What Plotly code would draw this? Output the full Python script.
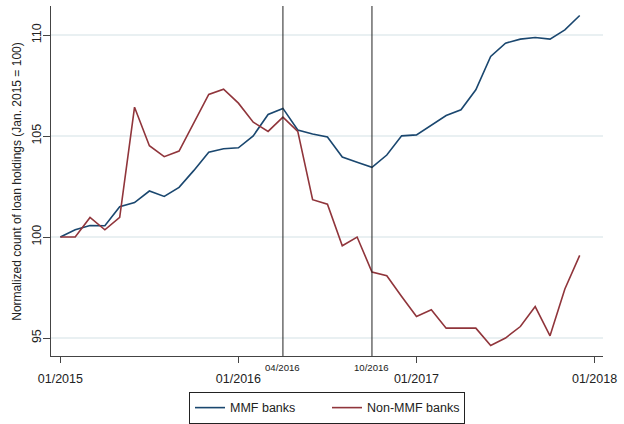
import plotly.graph_objects as go

months = [f"{y}-{m:02d}" for y in (2015, 2016, 2017) for m in range(1, 13)]

mmf_banks = [100.0, 100.36, 100.57, 100.56, 101.5, 101.71, 102.28, 102.01, 102.46, 103.3,
             104.2, 104.37, 104.42, 105.01, 106.07, 106.37, 105.3, 105.1, 104.95, 103.96,
             103.7, 103.45, 104.06, 105.01, 105.06, 105.56, 106.02, 106.3, 107.29, 108.94,
             109.6, 109.8, 109.88, 109.8, 110.26, 110.97]

non_mmf_banks = [100.0, 100.0, 100.97, 100.36, 100.97, 106.43, 104.52, 103.98, 104.26, 105.64,
                 107.06, 107.32, 106.63, 105.69, 105.23, 105.94, 105.23, 101.85, 101.63, 99.57,
                 100.0, 98.27, 98.08, 97.06, 96.07, 96.4, 95.49, 95.49, 95.49, 94.63,
                 95.0, 95.57, 96.56, 95.11, 97.43, 99.09]

x_tick_idx = [0, 12, 24, 36]
x_tick_text = ["01/2015", "01/2016", "01/2017", "01/2018"]
y_ticks = [95, 100, 105, 110]
event_idx = [15, 21]
event_text = ["04/2016", "10/2016"]

x = list(range(len(months)))

fig = go.Figure()
fig.add_trace(go.Scatter(x=x, y=mmf_banks, mode="lines", name="MMF banks",
                         line=dict(color="#1a476f", width=1.6)))
fig.add_trace(go.Scatter(x=x, y=non_mmf_banks, mode="lines", name="Non-MMF banks",
                         line=dict(color="#90353b", width=1.6)))

for xi, t in zip(event_idx, event_text):
    fig.add_shape(type="line", x0=xi, x1=xi, y0=0, y1=1, xref="x", yref="paper",
                  line=dict(color="#222222", width=1))
    fig.add_annotation(x=xi, y=-0.034, xref="x", yref="paper", text=t, showarrow=False,
                       yanchor="middle", xanchor="center",
                       font=dict(size=9.6, color="#222222", family="Liberation Sans, Arial"))

fig.add_annotation(x=-0.062, y=0.5, xref="paper", yref="paper", textangle=-90,
                   text="Normalized count of loan holdings (Jan. 2015 = 100)", showarrow=False,
                   xanchor="center", yanchor="middle",
                   font=dict(size=12, color="#222222", family="Liberation Sans, Arial"))

fig.update_layout(
    width=624, height=424,
    margin=dict(l=51, r=21, t=6, b=68, autoexpand=False),
    paper_bgcolor="white", plot_bgcolor="white",
    font=dict(family="Liberation Sans, Arial", size=12.5, color="#222222"),
    showlegend=True,
    legend=dict(orientation="h", x=0.5, xanchor="center",
                yref="container", y=0.0755, yanchor="top",
                bordercolor="#222222", borderwidth=1, font=dict(size=12.5),
                entrywidth=92),
    xaxis=dict(range=[-0.63, 36.57], tickmode="array", tickvals=x_tick_idx, ticktext=x_tick_text,
               showgrid=False, zeroline=False, showline=True, linecolor="#444444", linewidth=1,
               ticks="outside", ticklen=6, tickcolor="#444444", ticklabelstandoff=5),
    yaxis=dict(range=[94.11, 111.44], tickmode="array", tickvals=y_ticks,
               tickangle=-90, showgrid=True, gridcolor="#e9f0f2", gridwidth=1.5,
               zeroline=False, showline=True, linecolor="#444444", linewidth=1,
               ticks="outside", ticklen=7, tickcolor="#444444", ticklabelstandoff=-3),
)

fig.write_html("out.html")
